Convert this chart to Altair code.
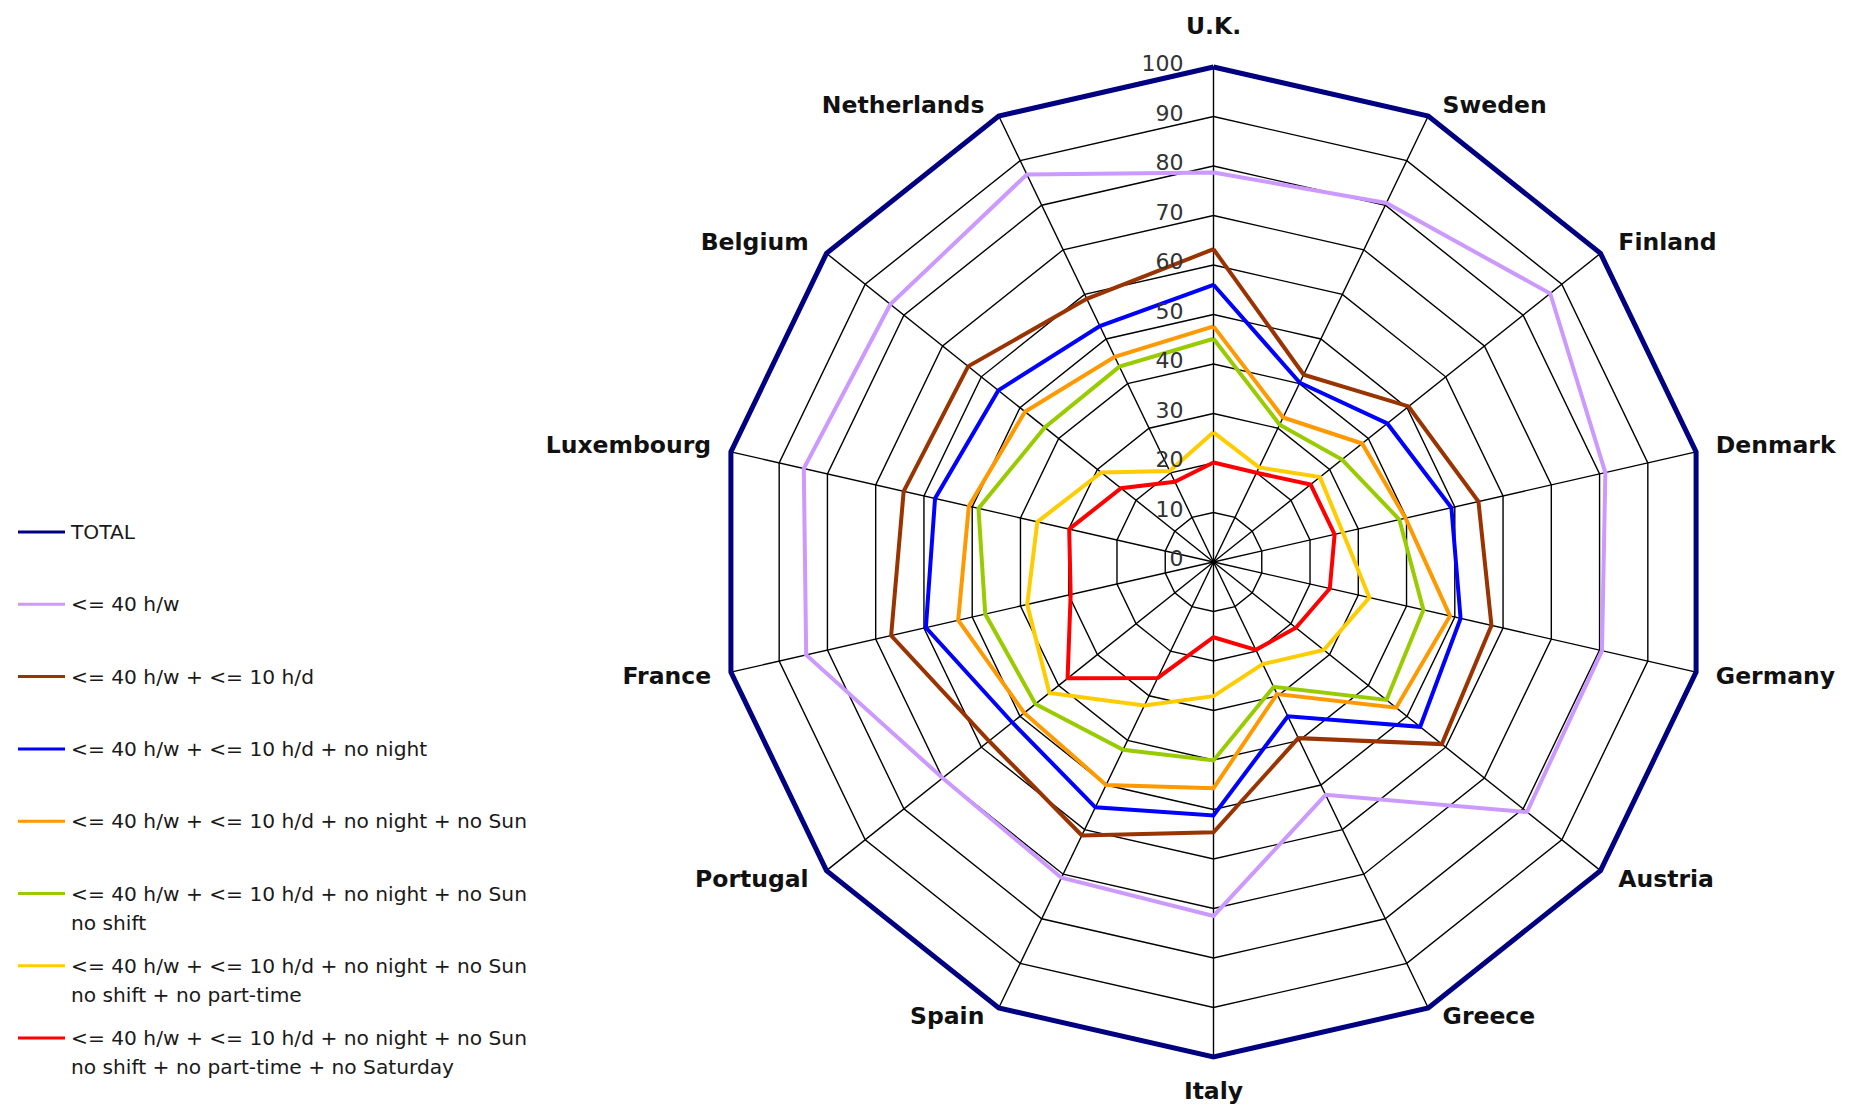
import altair as alt
import pandas as pd

# ---------------- data ----------------
countries = ["U.K.", "Sweden", "Finland", "Denmark", "Germany", "Austria", "Greece",
             "Italy", "Spain", "Portugal", "France", "Luxembourg", "Belgium", "Netherlands"]

ticks = [0, 10, 20, 30, 40, 50, 60, 70, 80, 90, 100]

series_names = [
    "TOTAL",
    "<= 40 h/w",
    "<= 40 h/w + <= 10 h/d",
    "<= 40 h/w + <= 10 h/d + no night",
    "<= 40 h/w + <= 10 h/d + no night + no Sun",
    "<= 40 h/w + <= 10 h/d + no night + no Sun\nno shift",
    "<= 40 h/w + <= 10 h/d + no night + no Sun\nno shift + no part-time",
    "<= 40 h/w + <= 10 h/d + no night + no Sun\nno shift + no part-time + no Saturday",
]
colors = ["#000080", "#cc99ff", "#993300", "#0000ff", "#ff9900", "#99cc00", "#ffcc00", "#ff0000"]

total  = [100, 100, 100, 100, 100, 100, 100, 100, 100, 100, 100, 100, 100, 100]
h40    = [78.7, 80.5, 87.0, 81.2, 80.5, 81.0, 52.2, 71.5, 70.8, 70.0, 84.4, 84.9, 83.5, 86.9]
h40_10 = [63.2, 42.0, 50.4, 54.9, 57.6, 59.0, 39.5, 54.6, 61.3, 58.0, 66.8, 64.2, 63.4, 59.0]
night  = [56.0, 40.2, 44.9, 49.3, 51.2, 53.4, 34.6, 51.2, 55.0, 52.0, 59.6, 57.7, 55.6, 52.9]
sun    = [47.6, 32.4, 38.4, 39.8, 49.0, 47.2, 29.6, 45.7, 50.0, 48.9, 52.9, 50.7, 48.7, 46.0]
shift  = [45.1, 30.8, 33.2, 38.5, 43.5, 44.7, 28.0, 40.1, 42.1, 46.0, 47.3, 48.7, 43.6, 43.8]
parttm = [26.2, 21.2, 27.5, 26.8, 32.3, 28.5, 22.9, 27.1, 32.2, 42.4, 38.6, 36.5, 29.0, 20.4]
sat    = [20.1, 20.0, 25.1, 25.1, 24.1, 21.3, 19.7, 15.2, 26.0, 37.7, 29.6, 29.9, 23.9, 18.0]

series_values = [total, h40, h40_10, night, sun, shift, parttm, sat]

# ---------------- geometry ----------------
W, H = 1838, 1096          # svg size (padding 0)
CX, CY = 1205.5, 554.0     # centre of the radar in svg pixels
K = 4.95                   # pixels per value unit
N = len(countries)

xs = alt.Scale(domain=[-CX / K, (W - CX) / K], nice=False, zero=False)
ys = alt.Scale(domain=[-(H - CY) / K, CY / K], nice=False, zero=False)

ANG = f"datum.idx * 2 * PI / {N}"
FONT = "DejaVu Sans"

def polar(chart, rfield):
    return chart.transform_calculate(
        a=ANG
    ).transform_calculate(
        px=f"datum.{rfield} * sin(datum.a)",
        py=f"datum.{rfield} * cos(datum.a)",
    )

X = alt.X("px:Q", scale=xs, axis=None)
Y = alt.Y("py:Q", scale=ys, axis=None)

# ---------------- grid ----------------
ring_df = pd.DataFrame([{"ring": t, "idx": i, "r": t} for t in ticks[1:] for i in range(N + 1)])
rings = polar(alt.Chart(ring_df), "r").mark_line(color="black", strokeWidth=1.4).encode(
    x=X, y=Y, detail="ring:N", order="idx:Q")

spoke_df = pd.DataFrame([{"idx": i, "r": r} for i in range(N) for r in (ticks[0], ticks[-1])])
spokes = polar(alt.Chart(spoke_df), "r").mark_line(color="black", strokeWidth=1.4).encode(
    x=X, y=Y, detail="idx:N", order="r:Q")

# ---------------- series ----------------
cscale = alt.Scale(domain=series_names, range=colors)
series_layers = []
for k, (name, vals) in enumerate(zip(series_names, series_values)):
    df = pd.DataFrame([{"series": name, "idx": i, "value": vals[i % N]} for i in range(N + 1)])
    sw = 5 if k == 0 else 4
    layer = polar(alt.Chart(df), "value").mark_line(strokeWidth=sw, strokeJoin="miter").encode(
        x=X, y=Y, order="idx:Q",
        color=alt.Color("series:N", scale=cscale, legend=None))
    series_layers.append(layer)

# ---------------- tick labels ----------------
tick_df = pd.DataFrame({"t": ticks, "idx": [0] * len(ticks)})
tick_labels = polar(alt.Chart(tick_df), "t").mark_text(
    align="right", baseline="middle", dx=-30, dy=-3, fontSize=22, font=FONT, color="#333333"
).encode(x=X, y=Y, text="t:Q")

# ---------------- country labels ----------------
cat_df = pd.DataFrame({"country": countries, "idx": list(range(N))})
R = ticks[-1]

def cat_layer(filt, align):
    c = alt.Chart(cat_df).transform_filter(filt).transform_calculate(
        a=ANG
    ).transform_calculate(
        s="sin(datum.a)", c="cos(datum.a)"
    ).transform_calculate(
        px=f"{R} * datum.s + (abs(datum.s) < 0.01 ? 0 : (datum.s > 0 ? 1 : -1) * (10 + 10 * abs(datum.s)) / {K})",
        py=(f"abs(datum.s) < 0.01 ? {R} * datum.c + (datum.c > 0 ? 40 : -35) / {K} : "
            f"{R} * datum.c + (0.5 + (datum.c > 0 ? 1 : -1) * (abs(datum.c) > 0.5 ? 9.5 : 5)) / {K}"),
    )
    return c.mark_text(align=align, baseline="middle", fontSize=23.5, fontWeight="bold",
                       font=FONT, color="#111111").encode(x=X, y=Y, text="country:N")

lab_c = cat_layer("datum.idx == 0 || datum.idx == 7", "center")
lab_r = cat_layer("datum.idx > 0 && datum.idx < 7", "left")
lab_l = cat_layer("datum.idx > 7", "right")

# ---------------- legend ----------------
leg_df = pd.DataFrame({"series": series_names, "k": list(range(len(series_names)))})
leg_base = alt.Chart(leg_df).transform_calculate(
    ly=f"({CY} - (524 + 72.3 * datum.k)) / {K}")
LY = alt.Y("ly:Q", scale=ys, axis=None)
leg_rules = leg_base.mark_rule(strokeWidth=3).encode(
    x=alt.value(10), x2=alt.value(57), y=LY,
    color=alt.Color("series:N", scale=cscale, legend=None))
leg_text = leg_base.mark_text(
    align="left", baseline="alphabetic", dy=7, fontSize=20.2, font=FONT,
    lineBreak="\n", lineHeight=29, color="#1a1a1a"
).encode(x=alt.value(63), y=LY, text="series:N")

chart = alt.layer(
    rings, spokes, *series_layers, tick_labels, lab_c, lab_r, lab_l, leg_rules, leg_text
).properties(
    width=W, height=H, padding=0, autosize="none"
).configure_view(stroke=None)

chart.save("out.html", embed_options={"renderer": "svg", "actions": False})
